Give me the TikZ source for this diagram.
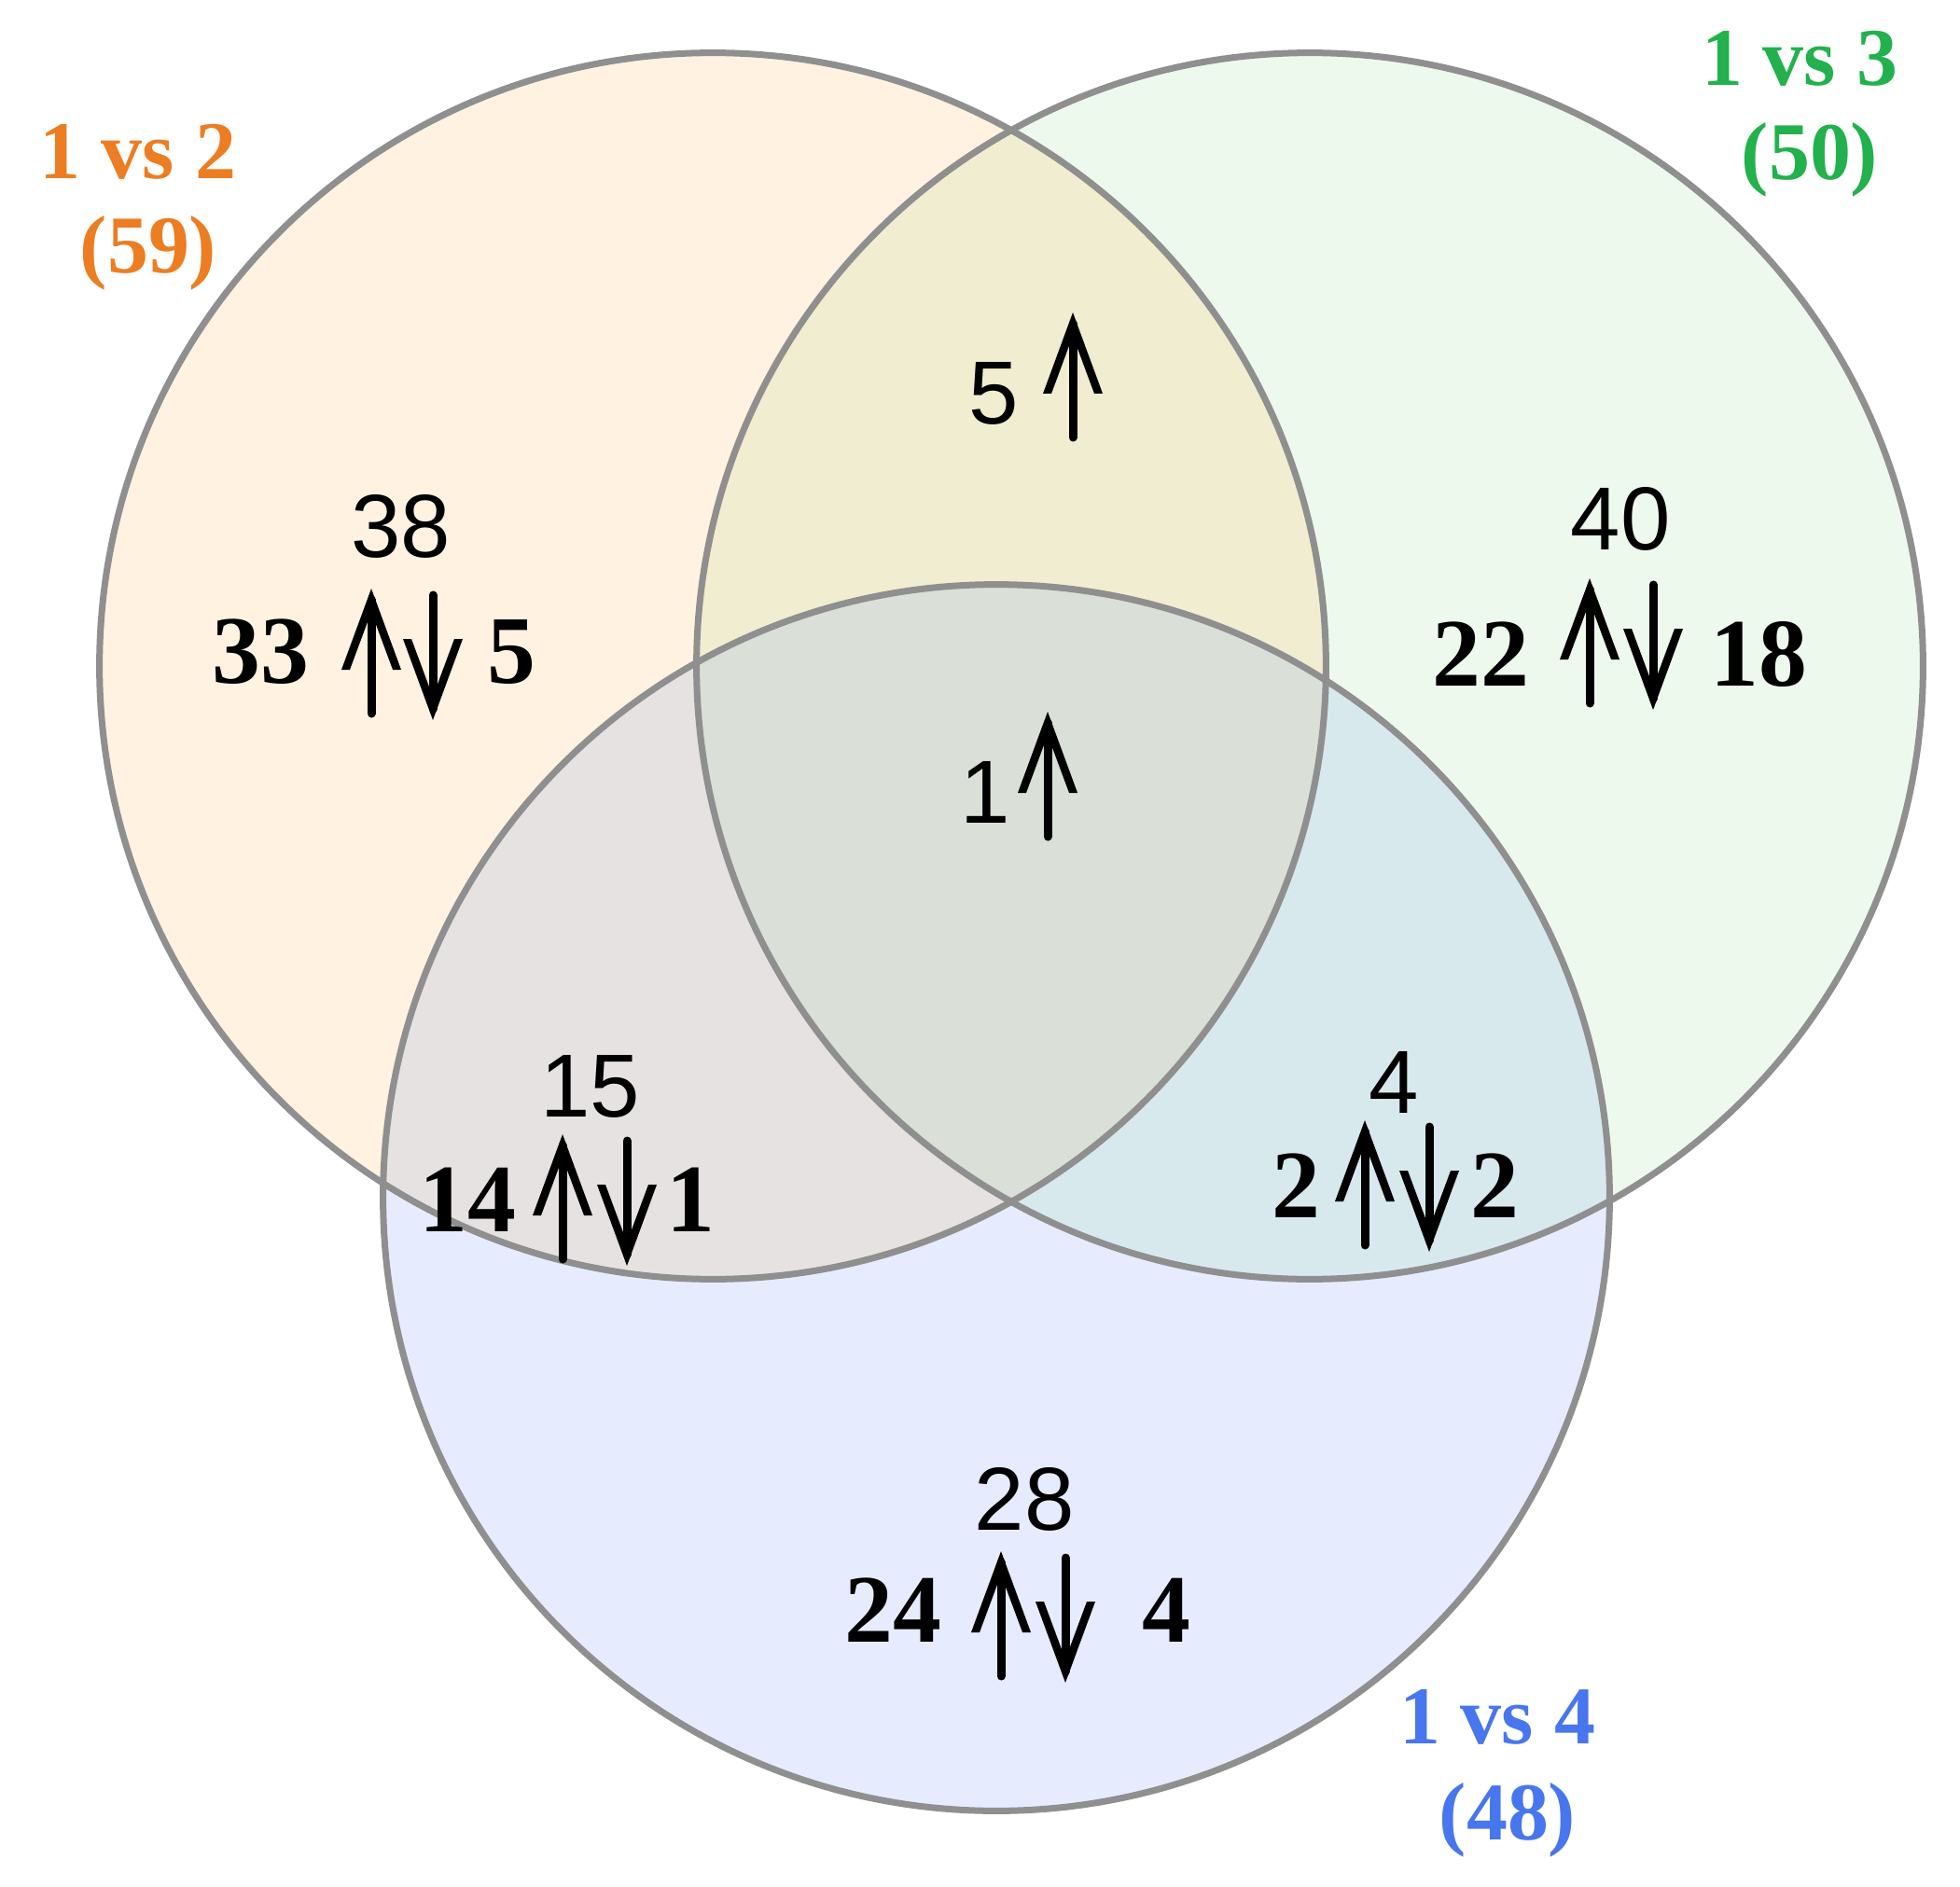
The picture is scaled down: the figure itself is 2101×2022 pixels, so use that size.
\documentclass[tikz,border=0pt]{standalone}
\usepackage{fontspec}
\setmainfont{Liberation Serif}
\newfontfamily\sansf{Liberation Sans}
\definecolor{fO}{RGB}{255,242,224}
\definecolor{fG}{RGB}{238,249,237}
\definecolor{fB}{RGB}{230,236,254}
\definecolor{fOG}{RGB}{241,237,208}
\definecolor{fOB}{RGB}{231,226,226}
\definecolor{fGB}{RGB}{216,233,238}
\definecolor{fOGB}{RGB}{218,223,215}
\definecolor{ringgray}{RGB}{143,143,143}
\definecolor{tOrange}{RGB}{237,125,34}
\definecolor{tGreen}{RGB}{34,177,76}
\definecolor{tBlue}{RGB}{72,118,238}
\begin{document}
\begin{tikzpicture}[x=0.01cm,y=-0.01cm,
  ring/.style={draw=ringgray,line width=0.07cm},
  cnt/.style={inner sep=0pt,anchor=base,font=\sansf\fontsize{27.3}{30}\selectfont},
  sub/.style={inner sep=0pt,anchor=base,font=\bfseries\fontsize{29.5}{32}\selectfont},
  lab/.style={inner sep=0pt,anchor=base,font=\bfseries\fontsize{25}{29}\selectfont},
  upar/.pic={
    \fill[black] (-32,85) -- (0,-2) -- (32,85) -- (23,85) -- (0,23) -- (-23,85) -- cycle;
    \draw[black,line width=0.09cm,line cap=round] (0,10) -- (0,132);
  },
  downar/.pic={
    \fill[black] (-32,52) -- (0,139) -- (32,52) -- (23,52) -- (0,114) -- (-23,52) -- cycle;
    \draw[black,line width=0.09cm,line cap=round] (0,5) -- (0,127);
  }]
\useasboundingbox (0,0) rectangle (2101,2022);
\coordinate (co) at (764,714);
\coordinate (cg) at (1404,714);
\coordinate (cb) at (1068,1284);
% region fills
\fill[fO] (co) circle[radius=6.57cm];
\fill[fG] (cg) circle[radius=6.57cm];
\fill[fB] (cb) circle[radius=6.57cm];
\begin{scope}
  \clip (co) circle[radius=6.57cm];
  \fill[fOG] (cg) circle[radius=6.57cm];
  \fill[fOB] (cb) circle[radius=6.57cm];
\end{scope}
\begin{scope}
  \clip (cg) circle[radius=6.57cm];
  \fill[fGB] (cb) circle[radius=6.57cm];
  \clip (cb) circle[radius=6.57cm];
  \fill[fOGB] (co) circle[radius=6.57cm];
\end{scope}
% outlines
\draw[ring] (co) circle[radius=6.57cm];
\draw[ring] (cg) circle[radius=6.57cm];
\draw[ring] (cb) circle[radius=6.57cm];
% labels
\node[lab,text=tOrange] (l2a) at (148,192) {1 vs 2};
\node[lab,text=tOrange] (l2b) at (159,293) {(59)};
\node[lab,text=tGreen] (l3a) at (1929,92) {1 vs 3};
\node[lab,text=tGreen] (l3b) at (1940,193) {(50)};
\node[lab,text=tBlue] (l4a) at (1605,1869) {1 vs 4};
\node[lab,text=tBlue] (l4b) at (1616,1972) {(48)};
% orange only
\node[cnt] (n38) at (430,597) {38};
\node[sub] (n33) at (279,732) {33};
\node[sub] (n5a) at (548,732) {5};
\pic at (398,633) {upar};
\pic at (464,633) {downar};
% orange & green
\node[cnt] (n5b) at (1065,455) {5};
\pic at (1150,337) {upar};
% all three
\node[cnt] (n1) at (1056,882) {1};
\pic at (1123,765) {upar};
% green only
\node[cnt] (n40) at (1737,590) {40};
\node[sub] (n22) at (1587,735) {22};
\node[sub] (n18) at (1885,735) {18};
\pic at (1704,622) {upar};
\pic at (1772,622) {downar};
% orange & blue
\node[cnt] (n15) at (633,1197) {15};
\node[sub] (n14) at (501,1320) {14};
\node[sub] (n1b) at (740,1320) {1};
\pic at (603,1218) {upar};
\pic at (672,1218) {downar};
% green & blue
\node[cnt] (n4) at (1494,1193) {4};
\node[sub] (n2a) at (1389,1305) {2};
\node[sub] (n2b) at (1602,1305) {2};
\pic at (1463,1203) {upar};
\pic at (1532,1203) {downar};
% blue only
\node[cnt] (n28) at (1098,1640) {28};
\node[sub] (n24) at (957,1760) {24};
\node[sub] (n4b) at (1250,1760) {4};
\pic at (1073,1665) {upar};
\pic at (1142,1665) {downar};
\end{tikzpicture}
\end{document}
